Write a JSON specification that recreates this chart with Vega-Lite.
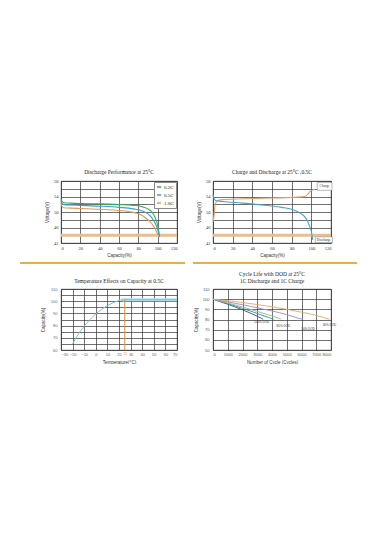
{
  "$schema": "https://vega.github.io/schema/vega-lite/v6.json",
  "background": "white",
  "padding": {"left": 18, "top": 169, "right": 0, "bottom": 0},
  "columns": 2,
  "bounds": "flush",
  "spacing": {"row": 46, "column": 36},
  "resolve": {"scale": {"color": "independent"}, "legend": {"color": "independent"}},
  "concat": [
    {
      "width": 116,
      "height": 62,
      "title": {"text": "Discharge Performance at 25°C"},
      "data": {"values": [
        {"g": "band", "x": 0, "x2": 120, "y": 44},
        {"g": "curve", "s": "0.2C", "x": 0, "y": 53.4}, {"g": "curve", "s": "0.2C", "x": 1, "y": 52.8}, {"g": "curve", "s": "0.2C", "x": 3, "y": 52.4}, {"g": "curve", "s": "0.2C", "x": 10, "y": 52.3}, {"g": "curve", "s": "0.2C", "x": 20, "y": 52.2}, {"g": "curve", "s": "0.2C", "x": 40, "y": 52.1}, {"g": "curve", "s": "0.2C", "x": 60, "y": 51.9}, {"g": "curve", "s": "0.2C", "x": 75, "y": 51.7}, {"g": "curve", "s": "0.2C", "x": 85, "y": 51.3}, {"g": "curve", "s": "0.2C", "x": 90, "y": 50.8}, {"g": "curve", "s": "0.2C", "x": 94, "y": 50.0}, {"g": "curve", "s": "0.2C", "x": 97, "y": 48.8}, {"g": "curve", "s": "0.2C", "x": 99, "y": 47.5}, {"g": "curve", "s": "0.2C", "x": 100.5, "y": 46.0}, {"g": "curve", "s": "0.2C", "x": 101.5, "y": 44.5}, {"g": "curve", "s": "0.2C", "x": 102, "y": 43.6},
        {"g": "curve", "s": "0.5C", "x": 0, "y": 53.0}, {"g": "curve", "s": "0.5C", "x": 1, "y": 52.3}, {"g": "curve", "s": "0.5C", "x": 3, "y": 51.9}, {"g": "curve", "s": "0.5C", "x": 10, "y": 51.8}, {"g": "curve", "s": "0.5C", "x": 20, "y": 51.7}, {"g": "curve", "s": "0.5C", "x": 40, "y": 51.5}, {"g": "curve", "s": "0.5C", "x": 60, "y": 51.2}, {"g": "curve", "s": "0.5C", "x": 75, "y": 50.8}, {"g": "curve", "s": "0.5C", "x": 85, "y": 50.2}, {"g": "curve", "s": "0.5C", "x": 90, "y": 49.5}, {"g": "curve", "s": "0.5C", "x": 94, "y": 48.5}, {"g": "curve", "s": "0.5C", "x": 97, "y": 47.3}, {"g": "curve", "s": "0.5C", "x": 99, "y": 46.2}, {"g": "curve", "s": "0.5C", "x": 100.5, "y": 45.0}, {"g": "curve", "s": "0.5C", "x": 101, "y": 44.0},
        {"g": "curve", "s": "1.0C", "x": 0, "y": 52.3}, {"g": "curve", "s": "1.0C", "x": 1, "y": 51.5}, {"g": "curve", "s": "1.0C", "x": 3, "y": 51.1}, {"g": "curve", "s": "1.0C", "x": 10, "y": 51.0}, {"g": "curve", "s": "1.0C", "x": 20, "y": 50.9}, {"g": "curve", "s": "1.0C", "x": 40, "y": 50.7}, {"g": "curve", "s": "1.0C", "x": 60, "y": 50.4}, {"g": "curve", "s": "1.0C", "x": 75, "y": 49.9}, {"g": "curve", "s": "1.0C", "x": 83, "y": 49.2}, {"g": "curve", "s": "1.0C", "x": 88, "y": 48.4}, {"g": "curve", "s": "1.0C", "x": 92, "y": 47.5}, {"g": "curve", "s": "1.0C", "x": 95, "y": 46.6}, {"g": "curve", "s": "1.0C", "x": 97.5, "y": 45.6}, {"g": "curve", "s": "1.0C", "x": 99, "y": 44.8}, {"g": "curve", "s": "1.0C", "x": 100, "y": 44.2},
        {"g": "sep", "x": -42.4, "x2": 128.3, "y": 36.84}
      ]},
      "encoding": {
        "x": {"field": "x", "type": "quantitative", "scale": {"domain": [0, 120], "nice": false, "zero": false},
          "axis": {"values": [0, 20, 40, 60, 80, 100, 120], "title": "Capacity(%)", "labelPadding": 2, "titlePadding": 3}},
        "y": {"field": "y", "type": "quantitative", "scale": {"domain": [42, 58], "nice": false, "zero": false},
          "axis": {"values": [42, 44, 46, 48, 50, 52, 54, 56, 58], "labelExpr": "(datum.value - 42) % 4 == 0 ? datum.label : ''", "title": "Voltage(V)", "labelPadding": 3, "titlePadding": 4}}
      },
      "layer": [
        {"transform": [{"filter": "datum.g == 'band'"}], "mark": {"type": "rule", "color": "#e8bd92", "strokeWidth": 3}, "encoding": {"x2": {"field": "x2"}}},
        {"transform": [{"filter": "datum.g == 'curve'"}], "mark": {"type": "line", "strokeWidth": 1.1, "interpolate": "monotone"},
          "encoding": {"color": {"field": "s", "type": "nominal", "scale": {"domain": ["0.2C", "0.5C", "1.0C"], "range": ["#2fae4e", "#3aa0d0", "#e09a5a"]},
            "legend": {"orient": "top-right", "title": null, "fillColor": "white", "strokeColor": "#888", "labelFont": "Liberation Serif", "labelFontSize": 5, "labelColor": "#222", "symbolType": "stroke", "symbolSize": 16, "symbolStrokeWidth": 1.5, "padding": 2, "rowPadding": 2, "offset": 1, "labelOffset": 2}}}},
        {"transform": [{"filter": "datum.g == 'sep'"}], "mark": {"type": "rule", "color": "#f0ad3c", "strokeWidth": 2}, "encoding": {"x2": {"field": "x2"}}}
      ]
    },
    {
      "width": 118,
      "height": 62,
      "title": {"text": "Charge and Discharge at 25°C ,0.5C"},
      "data": {"values": [
        {"g": "band", "x": 0, "x2": 120, "y": 44},
        {"g": "curve", "s": "Charge", "x": 0, "y": 47.5}, {"g": "curve", "s": "Charge", "x": 1, "y": 49.0}, {"g": "curve", "s": "Charge", "x": 2, "y": 51.5}, {"g": "curve", "s": "Charge", "x": 3, "y": 52.5}, {"g": "curve", "s": "Charge", "x": 5, "y": 53.0}, {"g": "curve", "s": "Charge", "x": 10, "y": 53.2}, {"g": "curve", "s": "Charge", "x": 30, "y": 53.4}, {"g": "curve", "s": "Charge", "x": 60, "y": 53.6}, {"g": "curve", "s": "Charge", "x": 90, "y": 53.9}, {"g": "curve", "s": "Charge", "x": 95, "y": 54.2}, {"g": "curve", "s": "Charge", "x": 97, "y": 54.8}, {"g": "curve", "s": "Charge", "x": 99, "y": 55.4}, {"g": "curve", "s": "Charge", "x": 101, "y": 55.7}, {"g": "curve", "s": "Charge", "x": 104, "y": 55.8},
        {"g": "curve", "s": "Discharge", "x": 0, "y": 54.5}, {"g": "curve", "s": "Discharge", "x": 1, "y": 53.5}, {"g": "curve", "s": "Discharge", "x": 3, "y": 52.9}, {"g": "curve", "s": "Discharge", "x": 10, "y": 52.7}, {"g": "curve", "s": "Discharge", "x": 30, "y": 52.3}, {"g": "curve", "s": "Discharge", "x": 50, "y": 51.8}, {"g": "curve", "s": "Discharge", "x": 70, "y": 51.2}, {"g": "curve", "s": "Discharge", "x": 80, "y": 50.7}, {"g": "curve", "s": "Discharge", "x": 90, "y": 49.5}, {"g": "curve", "s": "Discharge", "x": 95, "y": 48.2}, {"g": "curve", "s": "Discharge", "x": 98, "y": 46.5}, {"g": "curve", "s": "Discharge", "x": 100, "y": 45.0}, {"g": "curve", "s": "Discharge", "x": 101, "y": 43.5}, {"g": "curve", "s": "Discharge", "x": 101.5, "y": 42.8},
        {"g": "box", "x": 106, "x2": 121, "y": 57.6, "y2": 55.6},
        {"g": "box", "x": 104, "x2": 121.5, "y": 43.6, "y2": 42.1},
        {"g": "label", "x": 113.5, "y": 56.6, "t": "Charge"},
        {"g": "label", "x": 112.7, "y": 42.85, "t": "Discharge"},
        {"g": "sep", "x": -20.3, "x2": 146.4, "y": 36.84}
      ]},
      "encoding": {
        "x": {"field": "x", "type": "quantitative", "scale": {"domain": [0, 120], "nice": false, "zero": false},
          "axis": {"values": [0, 20, 40, 60, 80, 100, 120], "title": "Capacity(%)", "labelPadding": 2, "titlePadding": 3}},
        "y": {"field": "y", "type": "quantitative", "scale": {"domain": [42, 58], "nice": false, "zero": false},
          "axis": {"values": [42, 44, 46, 48, 50, 52, 54, 56, 58], "labelExpr": "(datum.value - 42) % 4 == 0 ? datum.label : ''", "title": "Voltage(V)", "labelPadding": 3, "titlePadding": 4}}
      },
      "layer": [
        {"transform": [{"filter": "datum.g == 'band'"}], "mark": {"type": "rule", "color": "#e8bd92", "strokeWidth": 3}, "encoding": {"x2": {"field": "x2"}}},
        {"transform": [{"filter": "datum.g == 'curve'"}], "mark": {"type": "line", "strokeWidth": 1.1, "interpolate": "monotone"},
          "encoding": {"color": {"field": "s", "type": "nominal", "scale": {"domain": ["Charge", "Discharge"], "range": ["#e0a26a", "#4aa3c8"]}, "legend": null}}},
        {"transform": [{"filter": "datum.g == 'box'"}], "mark": {"type": "rect", "fill": "white", "stroke": "#777", "strokeWidth": 0.5}, "encoding": {"x2": {"field": "x2"}, "y2": {"field": "y2"}}},
        {"transform": [{"filter": "datum.g == 'label'"}], "mark": {"type": "text", "font": "Liberation Serif", "fontSize": 3.5, "color": "#333"}, "encoding": {"text": {"field": "t"}}},
        {"transform": [{"filter": "datum.g == 'sep'"}], "mark": {"type": "rule", "color": "#f0ad3c", "strokeWidth": 2}, "encoding": {"x2": {"field": "x2"}}}
      ]
    },
    {
      "width": 116,
      "height": 61,
      "title": {"text": "Temperature Effects on Capacity at 0.5C"},
      "data": {"values": [
        {"g": "band", "x": 22, "x2": 70, "y": 101.2},
        {"g": "curve", "x": -20, "y": 65}, {"g": "curve", "x": -17, "y": 70}, {"g": "curve", "x": -14, "y": 74.5}, {"g": "curve", "x": -10, "y": 79.5}, {"g": "curve", "x": -6, "y": 84}, {"g": "curve", "x": -2, "y": 87.8}, {"g": "curve", "x": 2, "y": 91.2}, {"g": "curve", "x": 6, "y": 94}, {"g": "curve", "x": 10, "y": 96.4}, {"g": "curve", "x": 14, "y": 98.4}, {"g": "curve", "x": 18, "y": 99.9}, {"g": "curve", "x": 21, "y": 100.8}, {"g": "curve", "x": 24, "y": 101.2}, {"g": "curve", "x": 30, "y": 101.2}, {"g": "curve", "x": 70, "y": 101.2},
        {"g": "vline", "x": 25, "y": 60, "y2": 101.2}
      ]},
      "encoding": {
        "x": {"field": "x", "type": "quantitative", "scale": {"domain": [-30, 70], "nice": false, "zero": false},
          "axis": {"values": [-30, -20, -10, 0, 10, 20, 25, 30, 40, 50, 60, 70], "title": "Temperature(°C)", "labelFont": "Liberation Sans", "labelColor": {"condition": {"test": "datum.value == 25", "value": "#e0903a"}, "value": "#666"}, "labelFontSize": {"condition": {"test": "datum.value == 25", "value": 3}, "value": 4}, "gridOpacity": {"condition": {"test": "datum.value == 25", "value": 0}, "value": 1}, "labelOverlap": false, "labelPadding": 2, "titlePadding": 3}},
        "y": {"field": "y", "type": "quantitative", "scale": {"domain": [60, 110], "nice": false, "zero": false},
          "axis": {"values": [60, 65, 70, 75, 80, 85, 90, 95, 100, 105, 110], "labelExpr": "datum.value % 10 == 0 ? datum.label : ''", "title": "Capacity(%)", "labelFont": "Liberation Sans", "labelColor": "#666", "labelFontSize": 4, "labelPadding": 4, "titlePadding": 5}}
      },
      "layer": [
        {"transform": [{"filter": "datum.g == 'band'"}], "mark": {"type": "rule", "color": "#b5dde9", "strokeWidth": 3}, "encoding": {"x2": {"field": "x2"}}},
        {"transform": [{"filter": "datum.g == 'curve'"}], "mark": {"type": "line", "strokeWidth": 1, "color": "#7ec0d8", "interpolate": "monotone"}},
        {"transform": [{"filter": "datum.g == 'vline'"}], "mark": {"type": "rule", "color": "#e0903a", "strokeWidth": 1}, "encoding": {"y2": {"field": "y2"}}}
      ]
    },
    {
      "width": 118,
      "height": 61,
      "title": {"text": ["Cycle Life with DOD at 25°C", "1C Discharge and 1C Charge"], "lineHeight": 7},
      "data": {"values": [
        {"g": "curve", "s": "A", "x": 0, "y": 100}, {"g": "curve", "s": "A", "x": 500, "y": 97.5}, {"g": "curve", "s": "A", "x": 1000, "y": 95}, {"g": "curve", "s": "A", "x": 1500, "y": 92.3}, {"g": "curve", "s": "A", "x": 2000, "y": 89.5}, {"g": "curve", "s": "A", "x": 2500, "y": 86.5}, {"g": "curve", "s": "A", "x": 3000, "y": 83.2}, {"g": "curve", "s": "A", "x": 3300, "y": 81}, {"g": "curve", "s": "A", "x": 3400, "y": 80.2},
        {"g": "curve", "s": "B", "x": 0, "y": 100}, {"g": "curve", "s": "B", "x": 1000, "y": 95.7}, {"g": "curve", "s": "B", "x": 2000, "y": 91}, {"g": "curve", "s": "B", "x": 3000, "y": 86}, {"g": "curve", "s": "B", "x": 3500, "y": 83.3}, {"g": "curve", "s": "B", "x": 4000, "y": 80.8}, {"g": "curve", "s": "B", "x": 4100, "y": 80.2},
        {"g": "curve", "s": "C", "x": 0, "y": 100}, {"g": "curve", "s": "C", "x": 1000, "y": 96.3}, {"g": "curve", "s": "C", "x": 2000, "y": 92.3}, {"g": "curve", "s": "C", "x": 3000, "y": 88}, {"g": "curve", "s": "C", "x": 4000, "y": 83.5}, {"g": "curve", "s": "C", "x": 4600, "y": 80.5},
        {"g": "curve", "s": "D", "x": 0, "y": 100}, {"g": "curve", "s": "D", "x": 1000, "y": 97.3}, {"g": "curve", "s": "D", "x": 2000, "y": 94.5}, {"g": "curve", "s": "D", "x": 3000, "y": 91.5}, {"g": "curve", "s": "D", "x": 4000, "y": 88.4}, {"g": "curve", "s": "D", "x": 5000, "y": 84.8}, {"g": "curve", "s": "D", "x": 5800, "y": 81.2}, {"g": "curve", "s": "D", "x": 6100, "y": 80.2},
        {"g": "curve", "s": "E", "x": 0, "y": 100}, {"g": "curve", "s": "E", "x": 1000, "y": 98.5}, {"g": "curve", "s": "E", "x": 2000, "y": 96.7}, {"g": "curve", "s": "E", "x": 3000, "y": 94.7}, {"g": "curve", "s": "E", "x": 4000, "y": 92.5}, {"g": "curve", "s": "E", "x": 5000, "y": 90}, {"g": "curve", "s": "E", "x": 6000, "y": 87.2}, {"g": "curve", "s": "E", "x": 7000, "y": 84}, {"g": "curve", "s": "E", "x": 7600, "y": 81.5}, {"g": "curve", "s": "E", "x": 7900, "y": 80.3},
        {"g": "label", "x": 3300, "y": 77.7, "t": "100% DOD"},
        {"g": "label", "x": 4770, "y": 74.2, "t": "80% DOD"},
        {"g": "label", "x": 6460, "y": 71.2, "t": "50% DOD"},
        {"g": "label", "x": 7890, "y": 75.2, "t": "30% DOD"}
      ]},
      "encoding": {
        "x": {"field": "x", "type": "quantitative", "scale": {"domain": [0, 8000], "nice": false, "zero": false},
          "axis": {"values": [0, 1000, 2000, 3000, 4000, 5000, 6000, 7000, 8000], "format": "d", "title": "Number of Cycle (Cycles)", "labelFont": "Liberation Sans", "labelColor": "#555", "labelFontSize": 4, "labelPadding": 2, "titlePadding": 3}},
        "y": {"field": "y", "type": "quantitative", "scale": {"domain": [50, 110], "nice": false, "zero": false},
          "axis": {"values": [50, 60, 70, 80, 90, 100, 110], "title": "Capacity(%)", "labelFont": "Liberation Sans", "labelColor": "#555", "labelFontSize": 4, "labelPadding": 4, "titlePadding": 4}}
      },
      "layer": [
        {"transform": [{"filter": "datum.g == 'curve'"}], "mark": {"type": "line", "strokeWidth": 0.9, "interpolate": "monotone"},
          "encoding": {"color": {"field": "s", "type": "nominal", "scale": {"domain": ["A", "B", "C", "D", "E"], "range": ["#2b4c8c", "#3d8f8f", "#8cc28c", "#a683c9", "#e3a66c"]}, "legend": null}}},
        {"transform": [{"filter": "datum.g == 'label'"}], "mark": {"type": "text", "font": "Liberation Sans", "fontSize": 3, "color": "#333"}, "encoding": {"text": {"field": "t"}}}
      ]
    }
  ],
  "config": {
    "view": {"stroke": "#333", "strokeWidth": 0.8},
    "axis": {"grid": true, "gridColor": "#333", "gridWidth": 0.7, "ticks": false, "domain": false, "labelFontSize": 4.5, "titleFontSize": 4.5, "titleFontWeight": "normal", "labelColor": "#333", "titleColor": "#333", "labelFont": "Liberation Serif", "titleFont": "Liberation Sans"},
    "title": {"font": "Liberation Serif", "fontSize": 5.5, "fontWeight": "normal", "color": "#222", "offset": 3}
  }
}
